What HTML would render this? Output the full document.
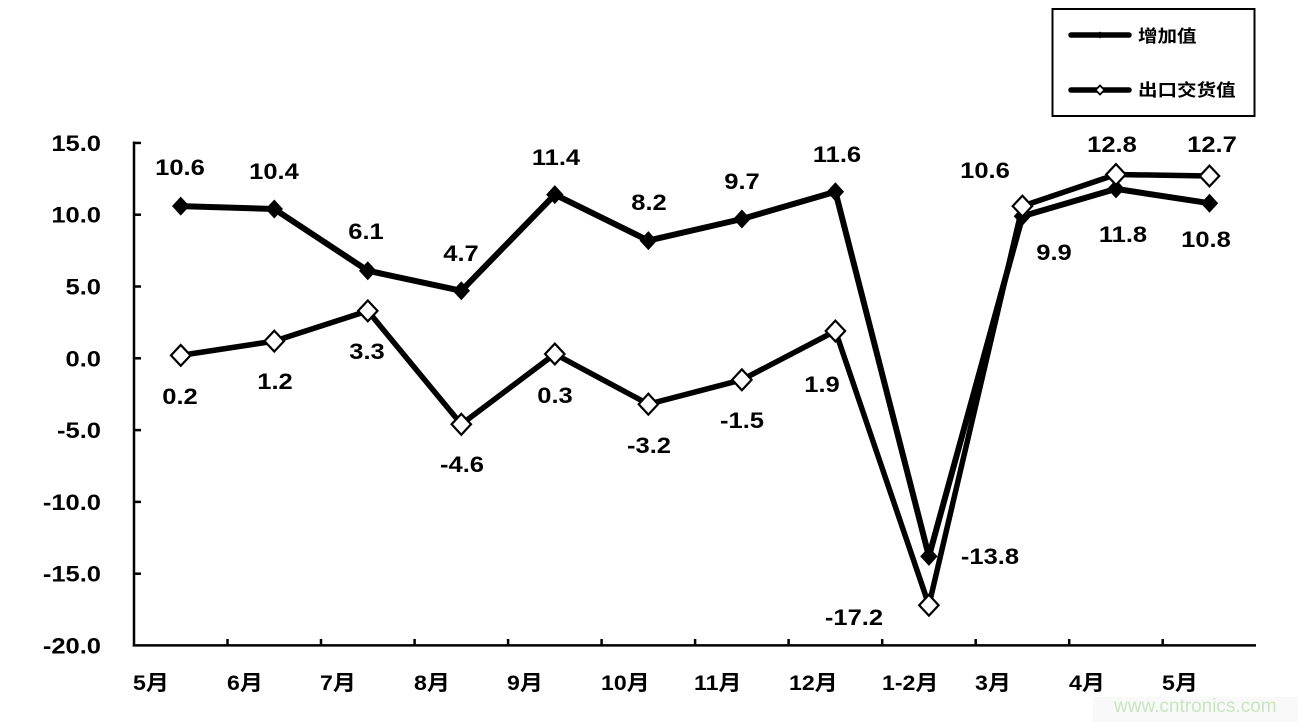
<!DOCTYPE html>
<html><head><meta charset="utf-8"><style>
html,body{margin:0;padding:0;background:#fff;}
svg{display:block;}
text{font-family:"Liberation Sans","Noto Sans CJK SC",sans-serif;font-weight:bold;fill:#000;}
</style></head><body>
<svg width="1298" height="722" viewBox="0 0 1298 722" xmlns="http://www.w3.org/2000/svg">
<rect x="0" y="0" width="1298" height="722" fill="#fff"/>
<rect x="1093" y="697" width="205" height="25" fill="#f9f9f9"/>
<!-- axes -->
<g stroke="#000" stroke-width="2.5" fill="none">
<line x1="134" y1="141.5" x2="134" y2="646.5"/>
<line x1="132.8" y1="645.4" x2="1256" y2="645.4"/>
<!-- y ticks -->
<line x1="134" y1="142.95" x2="141" y2="142.95"/>
<line x1="134" y1="214.7" x2="141" y2="214.7"/>
<line x1="134" y1="286.5" x2="141" y2="286.5"/>
<line x1="134" y1="358.3" x2="141" y2="358.3"/>
<line x1="134" y1="430.1" x2="141" y2="430.1"/>
<line x1="134" y1="501.9" x2="141" y2="501.9"/>
<line x1="134" y1="573.7" x2="141" y2="573.7"/>
<!-- x ticks -->
<line x1="227.5" y1="645" x2="227.5" y2="639"/>
<line x1="321" y1="645" x2="321" y2="639"/>
<line x1="414.6" y1="645" x2="414.6" y2="639"/>
<line x1="508.1" y1="645" x2="508.1" y2="639"/>
<line x1="601.6" y1="645" x2="601.6" y2="639"/>
<line x1="695.1" y1="645" x2="695.1" y2="639"/>
<line x1="788.6" y1="645" x2="788.6" y2="639"/>
<line x1="882.2" y1="645" x2="882.2" y2="639"/>
<line x1="975.7" y1="645" x2="975.7" y2="639"/>
<line x1="1069.2" y1="645" x2="1069.2" y2="639"/>
<line x1="1162.7" y1="645" x2="1162.7" y2="639"/>
</g>
<!-- y labels -->
<g font-size="22" text-anchor="end">
<text transform="translate(101,151) scale(1.16,1)">15.0</text>
<text transform="translate(101,222.7) scale(1.16,1)">10.0</text>
<text transform="translate(101,294.5) scale(1.16,1)">5.0</text>
<text transform="translate(101,366.3) scale(1.16,1)">0.0</text>
<text transform="translate(101,438.1) scale(1.16,1)">-5.0</text>
<text transform="translate(101,509.9) scale(1.16,1)">-10.0</text>
<text transform="translate(101,581.7) scale(1.16,1)">-15.0</text>
<text transform="translate(101,653.4) scale(1.16,1)">-20.0</text>
</g>
<!-- x labels -->
<g font-size="21">
<text transform="translate(133,690) scale(1.1,1)">5月</text>
<text transform="translate(227,690) scale(1.1,1)">6月</text>
<text transform="translate(320,690) scale(1.1,1)">7月</text>
<text transform="translate(414,690) scale(1.1,1)">8月</text>
<text transform="translate(507,690) scale(1.1,1)">9月</text>
<text transform="translate(601,690) scale(1.1,1)">10月</text>
<text transform="translate(694,690) scale(1.1,1)">11月</text>
<text transform="translate(789,690) scale(1.1,1)">12月</text>
<text transform="translate(882,690) scale(1.1,1)">1-2月</text>
<text transform="translate(975,690) scale(1.1,1)">3月</text>
<text transform="translate(1069,690) scale(1.1,1)">4月</text>
<text transform="translate(1162,690) scale(1.1,1)">5月</text>
</g>
<!-- series A: 增加值 -->
<polyline fill="none" stroke="#000" stroke-width="6" stroke-linejoin="round"
points="180.76,206.1 274.28,209.0 367.80,270.7 461.32,290.8 554.84,194.6 648.36,240.6 741.88,219.0 835.40,191.8 928.92,556.4 1022.44,216.2 1115.96,188.9 1209.48,203.2"/>
<g fill="#000">
<polygon points="180.76,196.6 189.5,206.1 180.76,215.6 172,206.1"/>
<polygon points="274.28,199.5 283,209.0 274.28,218.5 265.5,209.0"/>
<polygon points="367.80,261.2 376.5,270.7 367.80,280.2 359,270.7"/>
<polygon points="461.32,281.3 470,290.8 461.32,300.3 452.6,290.8"/>
<polygon points="554.84,185.1 563.5,194.6 554.84,204.1 546.1,194.6"/>
<polygon points="648.36,231.1 657,240.6 648.36,250.1 639.6,240.6"/>
<polygon points="741.88,209.5 750.6,219.0 741.88,228.5 733.2,219.0"/>
<polygon points="835.40,182.3 844.1,191.8 835.40,201.3 826.7,191.8"/>
<polygon points="928.92,546.9 937.6,556.4 928.92,565.9 920.2,556.4"/>
<polygon points="1022.44,206.7 1031.1,216.2 1022.44,225.7 1013.7,216.2"/>
<polygon points="1115.96,179.4 1124.7,188.9 1115.96,198.4 1107.2,188.9"/>
<polygon points="1209.48,193.7 1218.2,203.2 1209.48,212.7 1200.8,203.2"/>
</g>
<!-- series B: 出口交货值 -->
<polyline fill="none" stroke="#000" stroke-width="5.5" stroke-linejoin="round"
points="180.76,355.4 274.28,341.1 367.80,310.9 461.32,424.3 554.84,354.0 648.36,404.2 741.88,379.8 835.40,331.0 928.92,605.2 1022.44,206.1 1115.96,174.5 1209.48,176.0"/>
<g fill="#fff" stroke="#000" stroke-width="2.2">
<polygon points="180.76,345 190.5,355.4 180.76,365.8 171,355.4"/>
<polygon points="274.28,330.7 284,341.1 274.28,351.5 264.5,341.1"/>
<polygon points="367.80,300.5 377.5,310.9 367.80,321.3 358.1,310.9"/>
<polygon points="461.32,413.9 471,424.3 461.32,434.7 451.6,424.3"/>
<polygon points="554.84,343.6 564.5,354.0 554.84,364.4 545.1,354.0"/>
<polygon points="648.36,393.8 658,404.2 648.36,414.6 638.7,404.2"/>
<polygon points="741.88,369.4 751.6,379.8 741.88,390.2 732.2,379.8"/>
<polygon points="835.40,320.6 845.1,331.0 835.40,341.4 825.7,331.0"/>
<polygon points="928.92,594.8 938.6,605.2 928.92,615.6 919.2,605.2"/>
<polygon points="1022.44,195.7 1032.1,206.1 1022.44,216.5 1012.7,206.1"/>
<polygon points="1115.96,164.1 1125.7,174.5 1115.96,184.9 1106.2,174.5"/>
<polygon points="1209.48,165.6 1219.2,176.0 1209.48,186.4 1199.8,176.0"/>
</g>
<!-- data labels A -->
<g font-size="22" text-anchor="middle">
<text transform="translate(180,175) scale(1.16,1)">10.6</text>
<text transform="translate(274,179) scale(1.16,1)">10.4</text>
<text transform="translate(366,239) scale(1.16,1)">6.1</text>
<text transform="translate(461,261) scale(1.16,1)">4.7</text>
<text transform="translate(556,165) scale(1.16,1)">11.4</text>
<text transform="translate(649,210) scale(1.16,1)">8.2</text>
<text transform="translate(742,189) scale(1.16,1)">9.7</text>
<text transform="translate(837,162) scale(1.16,1)">11.6</text>
<text transform="translate(990,564) scale(1.16,1)">-13.8</text>
<text transform="translate(1054,260) scale(1.16,1)">9.9</text>
<text transform="translate(1123,242) scale(1.16,1)">11.8</text>
<text transform="translate(1206,247) scale(1.16,1)">10.8</text>
<!-- data labels B -->
<text transform="translate(180,404) scale(1.16,1)">0.2</text>
<text transform="translate(275,389) scale(1.16,1)">1.2</text>
<text transform="translate(367,359) scale(1.16,1)">3.3</text>
<text transform="translate(462,472) scale(1.16,1)">-4.6</text>
<text transform="translate(555,403) scale(1.16,1)">0.3</text>
<text transform="translate(649,453) scale(1.16,1)">-3.2</text>
<text transform="translate(742,428) scale(1.16,1)">-1.5</text>
<text transform="translate(822,392) scale(1.16,1)">1.9</text>
<text transform="translate(854,625) scale(1.16,1)">-17.2</text>
<text transform="translate(985,178) scale(1.16,1)">10.6</text>
<text transform="translate(1112,152) scale(1.16,1)">12.8</text>
<text transform="translate(1212,152) scale(1.16,1)">12.7</text>
</g>
<!-- legend -->
<rect x="1052.5" y="9" width="202" height="107" fill="#fff" stroke="#000" stroke-width="2"/>
<line x1="1071" y1="35" x2="1129" y2="35" stroke="#000" stroke-width="5.5" stroke-linecap="round"/>
<polygon points="1100,31.5 1103.5,35 1100,38.5 1096.5,35" fill="#000"/>
<line x1="1071" y1="90" x2="1129" y2="90" stroke="#000" stroke-width="5.5" stroke-linecap="round"/>
<polygon points="1100,85.5 1104.5,90 1100,94.5 1095.5,90" fill="#fff" stroke="#000" stroke-width="1.8"/>
<g font-size="17">
<text transform="translate(1138,42) scale(1.15,1)">增加值</text>
<text transform="translate(1138,96) scale(1.15,1)">出口交货值</text>
</g>
<!-- watermark -->
<text x="1114" y="712" font-size="19" style="font-weight:normal;fill:#c8e6c0">www.cntronics.com</text>
</svg>
</body></html>
